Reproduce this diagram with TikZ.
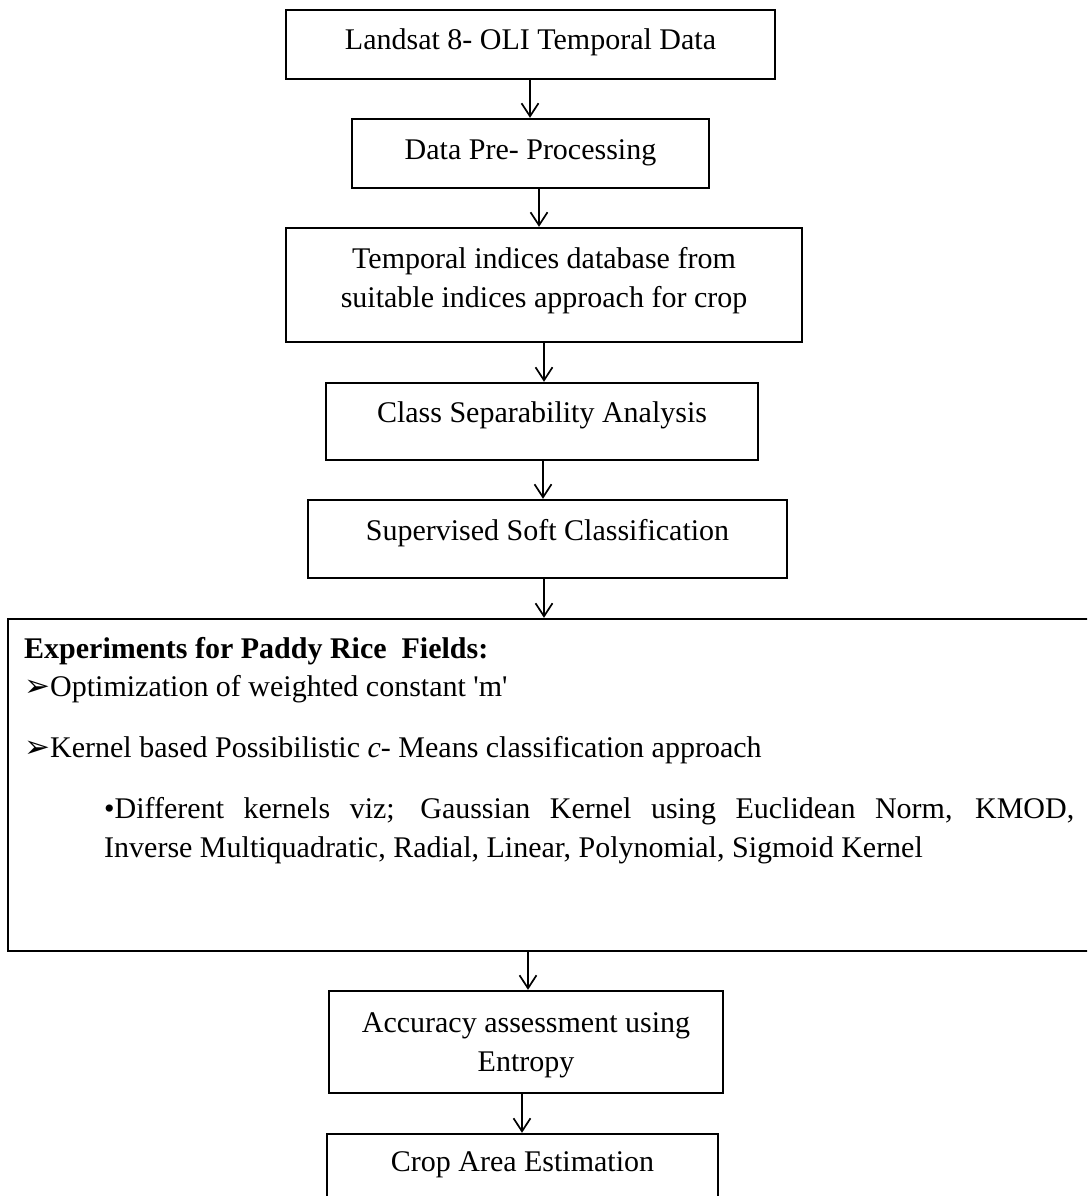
\documentclass[tikz,border=0pt]{standalone}
\usepackage{fontspec}
\setmainfont{Liberation Serif}[Ligatures=TeXOff]
\newfontfamily\dingfont{DejaVu Sans}
\usetikzlibrary{arrows.meta}
\newcommand{\pointer}{{\dingfont\fontsize{31}{31}\selectfont ➢}}
\begin{document}
\begin{tikzpicture}[x=1pt,y=-1pt,
  box/.style={draw, line width=2.4pt, inner sep=0pt},
  txt/.style={font=\fontsize{30}{39}\selectfont, inner sep=0pt, anchor=base},
  ltxt/.style={font=\fontsize{30}{39}\selectfont, inner sep=0pt, anchor=base west},
  arr/.style={line width=1.7pt, -{Straight Barb[length=13pt,width=17pt]}}]
\useasboundingbox (0,0) rectangle (1087,1196);
\fill[white] (0,0) rectangle (1087,1196);
\clip (0,0) rectangle (1087,1196);

% boxes
\node[box, minimum width=489pt, minimum height=69pt] (b1) at (530.5,44.5) {};
\node[box, minimum width=357pt, minimum height=69pt] (b2) at (530.5,153.5) {};
\node[box, minimum width=516pt, minimum height=114pt] (b3) at (544,285) {};
\node[box, minimum width=432pt, minimum height=77pt] (b4) at (542,421.5) {};
\node[box, minimum width=479pt, minimum height=78pt] (b5) at (547.5,539) {};
\node[box, minimum width=1092pt, minimum height=332pt] (b6) at (554,785) {};
\node[box, minimum width=394pt, minimum height=102pt] (b7) at (526,1042) {};
\node[box, minimum width=391pt, minimum height=76pt] (b8) at (522.5,1172) {};

% texts
\node[txt] (t1) at (530.5,50) {Landsat 8- OLI Temporal Data};
\node[txt] (t2) at (530.5,159) {Data Pre- Processing};
\node[txt] (t3) at (544,268) {\begin{tabular}[t]{@{}c@{}}Temporal indices database from\\ suitable indices approach for crop\end{tabular}};
\node[txt] (t4) at (542,422) {Class Separability Analysis};
\node[txt] (t5) at (547.5,540) {Supervised Soft Classification};
\node[ltxt] (t6a) at (24,658) {\textbf{Experiments for Paddy Rice\ \ Fields:}};
\node[ltxt] (t6b) at (24,696) {\pointer Optimization of weighted constant 'm'};
\node[ltxt] (t6c) at (24,757) {\pointer Kernel based Possibilistic \textit{c}- Means classification approach};
\node[ltxt] (t6d) at (104,818) {\begin{tabular}[t]{@{}l@{}}\makebox[970pt][s]{•Different kernels viz; Gaussian Kernel using Euclidean Norm, KMOD,}\\ Inverse Multiquadratic, Radial, Linear, Polynomial, Sigmoid Kernel\end{tabular}};
\node[txt] (t7) at (526,1032) {\begin{tabular}[t]{@{}c@{}}Accuracy assessment using\\ Entropy\end{tabular}};
\node[txt] (t8) at (522.5,1171) {Crop Area Estimation};

% connectors
\draw[arr] ([xshift=-0.5pt]b1.south) -- ([xshift=-0.5pt]b1.south |- b2.north);
\draw[arr] ([xshift=8.5pt]b2.south) -- ([xshift=8.5pt]b2.south |- b3.north);
\draw[arr] (b3.south) -- (b3.south |- b4.north);
\draw[arr] ([xshift=1pt]b4.south) -- ([xshift=1pt]b4.south |- b5.north);
\draw[arr] ([xshift=-3.5pt]b5.south) -- ([xshift=-3.5pt]b5.south |- b6.north);
\draw[arr] ([xshift=2pt]b7.north |- b6.south) -- ([xshift=2pt]b7.north);
\draw[arr] ([xshift=-0.5pt]b8.north |- b7.south) -- ([xshift=-0.5pt]b8.north);
\end{tikzpicture}
\end{document}
